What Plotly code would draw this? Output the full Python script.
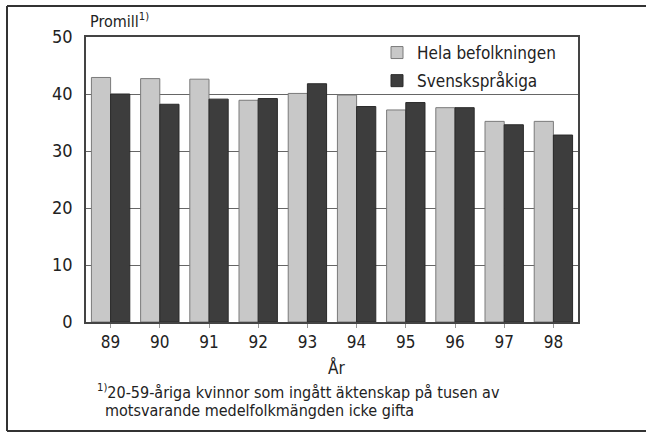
import plotly.graph_objects as go

# Data (promille)
years = ["89", "90", "91", "92", "93", "94", "95", "96", "97", "98"]
hela = [42.9, 42.7, 42.6, 38.9, 40.1, 39.8, 37.2, 37.6, 35.2, 35.2]
svensk = [40.0, 38.2, 39.1, 39.2, 41.8, 37.8, 38.5, 37.6, 34.6, 32.8]

FONT = "Liberation Sans Narrow, DejaVu Sans Condensed, Roboto, sans-serif"
TXT = "#222222"

W, H = 646, 432
L, R, T, B = 86, 68, 37, 110


def px_x(x):
    return (x - L) / (W - L - R)


def px_y(y):
    return (H - B - y) / (H - B - T)


fig = go.Figure()
fig.add_trace(go.Bar(
    x=years, y=hela, name="Hela befolkningen", legendgroup="a",
    marker=dict(color="#c8c8c8", line=dict(color="#7a7a7a", width=1)),
))
fig.add_trace(go.Bar(
    x=years, y=svensk, name="Svenskspråkiga", legendgroup="b",
    marker=dict(color="#3d3d3d", line=dict(color="#2a2a2a", width=1)),
))

fig.update_layout(
    width=W, height=H,
    margin=dict(l=L, r=R, t=T, b=B, autoexpand=False),
    paper_bgcolor="white", plot_bgcolor="white",
    barmode="group", bargap=0.22, bargroupgap=0,
    font=dict(family=FONT, size=16, color=TXT),
    showlegend=True,
    legend=dict(
        x=px_x(377), y=px_y(35), xanchor="left", yanchor="top",
        bgcolor="rgba(0,0,0,0)", font=dict(size=17, color=TXT),
        tracegroupgap=3, itemwidth=30,
    ),
)
fig.update_xaxes(
    type="category", showline=True, linecolor="#444444", linewidth=1.5,
    mirror=True, ticks="outside", ticklen=4, tickcolor="#999999",
    showgrid=False, tickfont=dict(size=17), fixedrange=True,
    automargin=False,
)
fig.update_yaxes(
    range=[0, 50], dtick=10, showline=True, linecolor="#444444",
    linewidth=1.5, mirror=True, showgrid=True, gridcolor="#666666",
    gridwidth=1, ticks="", ticklabelstandoff=8, tickfont=dict(size=18),
    zeroline=False, fixedrange=True, automargin=False,
)

# Outer frame: left, top and bottom edges only (right edge is off the scan)
frame = dict(color="#333333", width=2)
for x0, y0, x1, y1 in [(7, 6, 7, 431), (7, 6, 646, 6), (7, 431, 646, 431)]:
    fig.add_shape(
        type="line", xref="paper", yref="paper",
        x0=px_x(x0), x1=px_x(x1), y0=px_y(y0), y1=px_y(y1), line=frame,
    )

annotations = [
    dict(text="Promill<sup>1)</sup>", x=px_x(88), y=px_y(20), size=16),
    dict(text="År", x=px_x(326), y=px_y(367), size=17),
    dict(text="<sup>1)</sup>20-59-åriga kvinnor som ingått äktenskap på tusen av",
         x=px_x(95), y=px_y(391), size=16),
    dict(text="motsvarande medelfolkmängden icke gifta",
         x=px_x(103), y=px_y(410), size=16),
]
for a in annotations:
    fig.add_annotation(
        text=a["text"], x=a["x"], y=a["y"], xref="paper", yref="paper",
        xanchor="left", yanchor="middle", showarrow=False,
        font=dict(family=FONT, size=a["size"], color=TXT),
    )

# Drop the default page margin so the figure sits at the window corner
fig.write_html(
    "out.html",
    config={"displayModeBar": False},
    post_script=(
        "document.body.style.margin='0';"
        "document.body.style.overflow='hidden';"
    ),
)
